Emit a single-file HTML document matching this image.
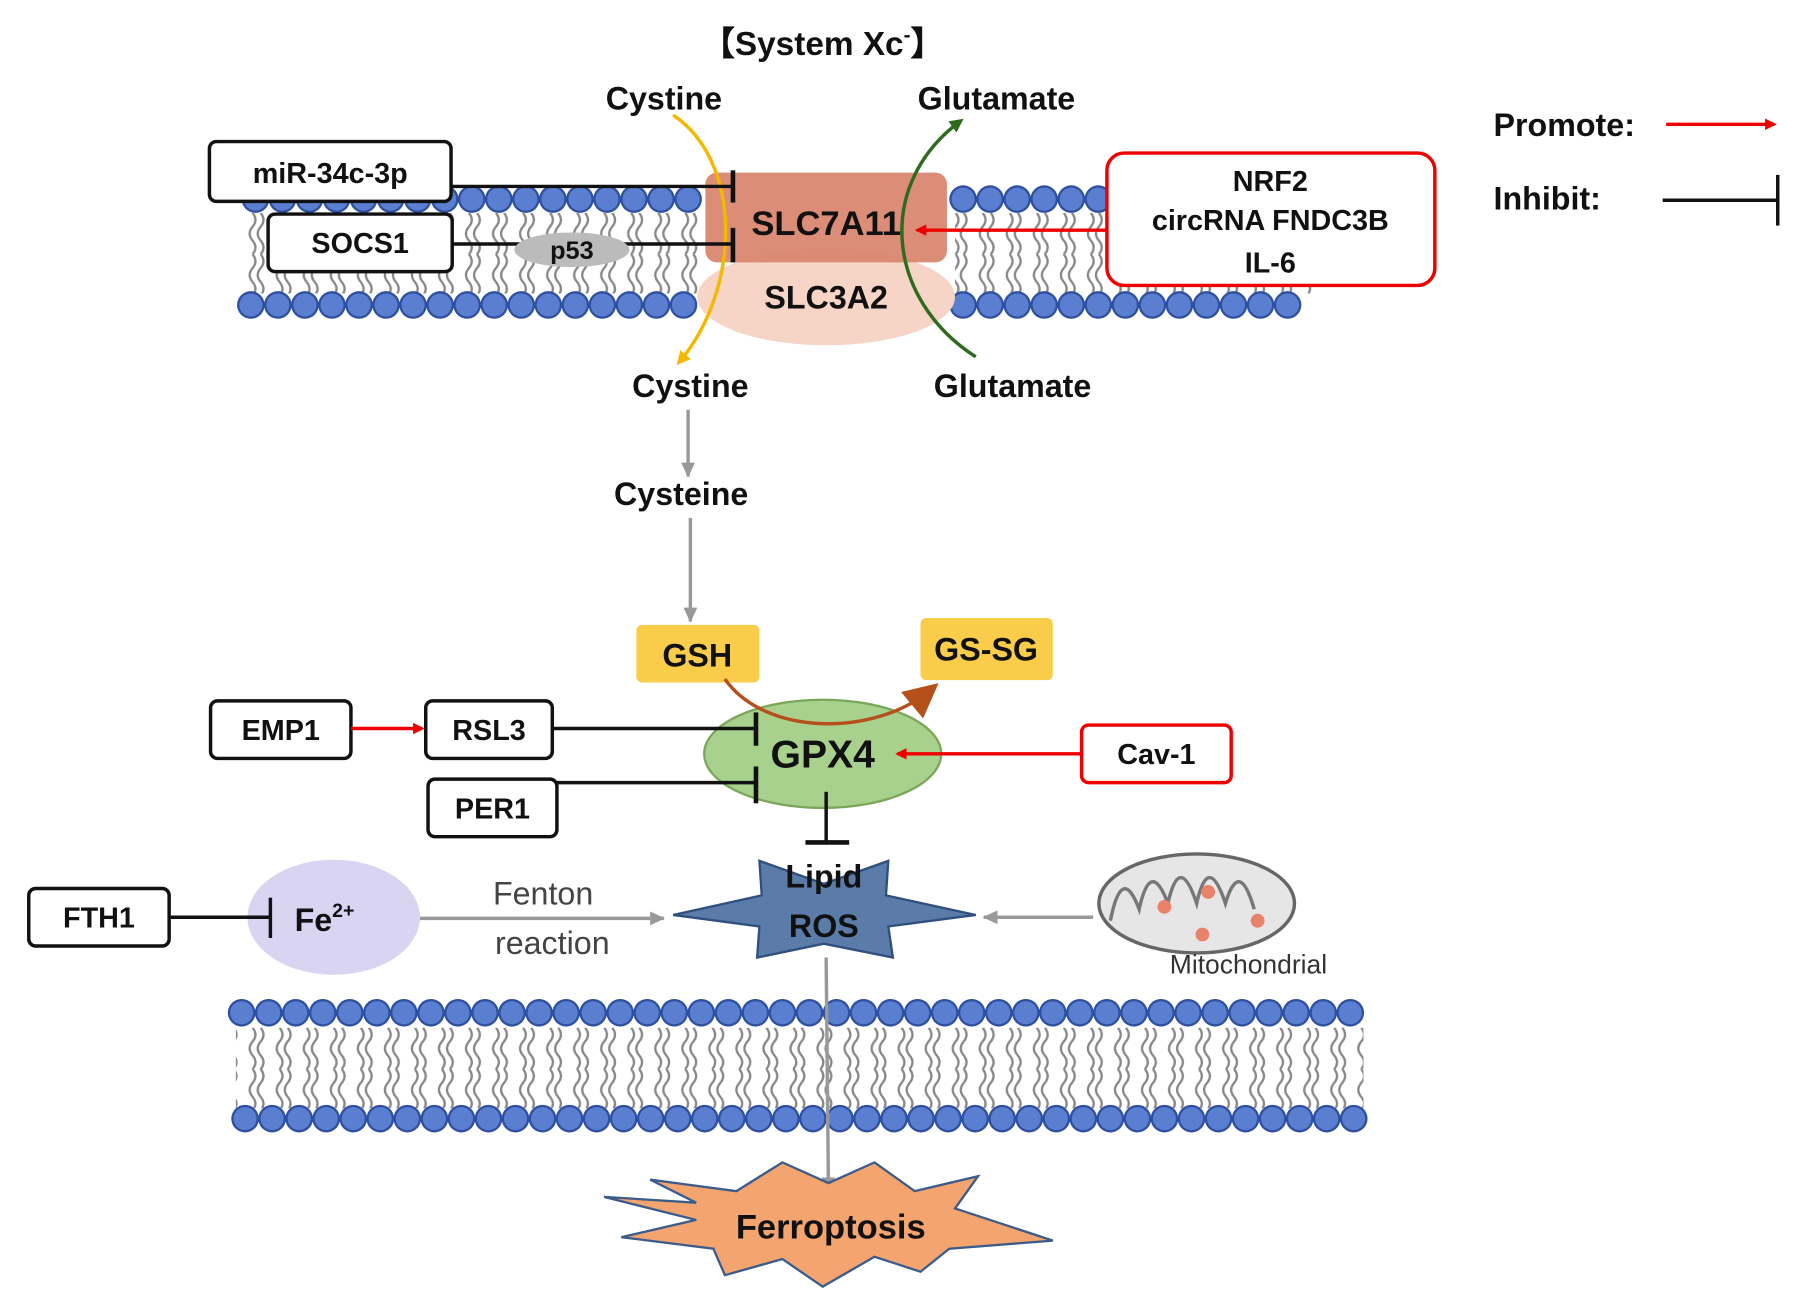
<!DOCTYPE html>
<html><head><meta charset="utf-8"><style>
html,body{margin:0;padding:0;background:#fff;width:1795px;height:1312px;overflow:hidden}
svg{display:block}
text{font-family:"Liberation Sans",sans-serif;fill:#111}
</style></head><body>
<svg width="1795" height="1312" viewBox="0 0 1560 1140" preserveAspectRatio="none" xmlns="http://www.w3.org/2000/svg">
<defs>
<pattern id="tailsA" x="0" y="185" width="23.5" height="70" patternUnits="userSpaceOnUse">
<path d="M8 0 q5 6 0 12 q-5 6 0 12 q5 6 0 12 M15 0 q5 6 0 12 q-5 6 0 12 q5 6 0 12 M8 36 q5 6 0 12 q-5 6 0 12 q5 6 0 12 M15 36 q5 6 0 12 q-5 6 0 12 q5 6 0 12" fill="none" stroke="#888" stroke-width="2"/>
</pattern>
<pattern id="tailsB" x="0" y="893" width="23.5" height="70" patternUnits="userSpaceOnUse">
<path d="M8 0 q5 6 0 12 q-5 6 0 12 q5 6 0 12 M15 0 q5 6 0 12 q-5 6 0 12 q5 6 0 12 M8 36 q5 6 0 12 q-5 6 0 12 q5 6 0 12 M15 36 q5 6 0 12 q-5 6 0 12 q5 6 0 12" fill="none" stroke="#888" stroke-width="2"/>
</pattern>
<marker id="ar" markerWidth="10" markerHeight="10" refX="8" refY="5" orient="auto" markerUnits="userSpaceOnUse"><path d="M0 0 L10 5 L0 10 Z" fill="#e00"/></marker>
<marker id="ag" markerWidth="14" markerHeight="14" refX="12" refY="7" orient="auto" markerUnits="userSpaceOnUse"><path d="M0 1 L13 7 L0 13 Z" fill="#999"/></marker>
<marker id="ay" markerWidth="12" markerHeight="12" refX="9" refY="6" orient="auto" markerUnits="userSpaceOnUse"><path d="M0 0 L12 6 L0 12 Z" fill="#f5b800"/></marker>
<marker id="agr" markerWidth="12" markerHeight="12" refX="9" refY="6" orient="auto" markerUnits="userSpaceOnUse"><path d="M0 0 L12 6 L0 12 Z" fill="#2e6b1e"/></marker>
<marker id="abr" markerWidth="30" markerHeight="30" refX="20" refY="15" orient="auto" markerUnits="userSpaceOnUse"><path d="M0 0 L30 15 L0 30 Z" fill="#b5501a"/></marker>
</defs>
<g id="heads" fill="none" stroke-linecap="round">
<!-- top membrane tails -->
<rect x="210" y="185" width="400" height="70" fill="url(#tailsA)"/>
<rect x="830" y="185" width="310" height="70" fill="url(#tailsA)"/>
<rect x="205" y="893" width="980" height="70" fill="url(#tailsB)"/>
<g stroke-dasharray="0 23.5">
<path d="M222 173 H610 M837 173 H960 M218 265 H610 M837 265 H1140 M210 880 H1185 M213 972 H1190" stroke="#2f4fa0" stroke-width="24"/>
<path d="M222 173 H610 M837 173 H960 M218 265 H610 M837 265 H1140 M210 880 H1185 M213 972 H1190" stroke="#5b7fd0" stroke-width="20"/>
</g>
</g>

<!-- transporter -->
<ellipse cx="718" cy="258" rx="112" ry="42" fill="#f6d5c6"/>
<rect x="613" y="150" width="210" height="78" rx="10" fill="#d98770" opacity="0.95"/>
<text x="718" y="204" font-size="30" font-weight="bold" text-anchor="middle">SLC7A11</text>
<text x="718" y="268" font-size="28" font-weight="bold" text-anchor="middle">SLC3A2</text>

<path d="M585 100 C645 140 645 250 590 315" fill="none" stroke="#f5b800" stroke-width="3" marker-end="url(#ay)"/>
<path d="M848 310 C770 260 760 160 835 105" fill="none" stroke="#2e6b1e" stroke-width="3" marker-end="url(#agr)"/>

<text x="715" y="48" font-size="29" font-weight="bold" text-anchor="middle">【System Xc<tspan font-size="18" dy="-12">-</tspan><tspan dy="12">】</tspan></text>
<text x="577" y="95" font-size="28" font-weight="bold" text-anchor="middle">Cystine</text>
<text x="866" y="95" font-size="28" font-weight="bold" text-anchor="middle">Glutamate</text>
<text x="600" y="345" font-size="28" font-weight="bold" text-anchor="middle">Cystine</text>
<text x="880" y="345" font-size="28" font-weight="bold" text-anchor="middle">Glutamate</text>

<rect x="182" y="123" width="210" height="52" rx="6" fill="#fff" stroke="#111" stroke-width="3"/>
<text x="287" y="159" font-size="25" font-weight="bold" text-anchor="middle">miR-34c-3p</text>
<rect x="233" y="186" width="160" height="50" rx="6" fill="#fff" stroke="#111" stroke-width="3"/>
<text x="313" y="220" font-size="25" font-weight="bold" text-anchor="middle">SOCS1</text>
<line x1="392" y1="162" x2="637" y2="162" stroke="#111" stroke-width="3"/>
<line x1="637" y1="148" x2="637" y2="176" stroke="#111" stroke-width="4"/>
<line x1="393" y1="212" x2="637" y2="212" stroke="#111" stroke-width="3"/>
<line x1="637" y1="198" x2="637" y2="228" stroke="#111" stroke-width="4"/>
<ellipse cx="497" cy="217" rx="50" ry="15" fill="#bbb"/>
<text x="497" y="225" font-size="22" font-weight="bold" text-anchor="middle">p53</text>

<rect x="962" y="133" width="285" height="115" rx="15" fill="#fff" stroke="#e00" stroke-width="3"/>
<text x="1104" y="166" font-size="25" font-weight="bold" text-anchor="middle">NRF2</text>
<text x="1104" y="200" font-size="25" font-weight="bold" text-anchor="middle">circRNA FNDC3B</text>
<text x="1104" y="237" font-size="25" font-weight="bold" text-anchor="middle">IL-6</text>
<line x1="962" y1="200" x2="797" y2="200" stroke="#e00" stroke-width="3" marker-end="url(#ar)"/>

<text x="1298" y="118" font-size="28" font-weight="bold">Promote:</text>
<line x1="1448" y1="108" x2="1542" y2="108" stroke="#e00" stroke-width="3" marker-end="url(#ar)"/>
<text x="1298" y="182" font-size="28" font-weight="bold">Inhibit:</text>
<line x1="1445" y1="174" x2="1545" y2="174" stroke="#111" stroke-width="3"/>
<line x1="1545" y1="152" x2="1545" y2="196" stroke="#111" stroke-width="3"/>

<line x1="598" y1="356" x2="598" y2="414" stroke="#999" stroke-width="3" marker-end="url(#ag)"/>
<text x="592" y="439" font-size="28" font-weight="bold" text-anchor="middle">Cysteine</text>
<line x1="600" y1="450" x2="600" y2="540" stroke="#999" stroke-width="3" marker-end="url(#ag)"/>

<rect x="553" y="543" width="107" height="50" rx="5" fill="#f9cd4a"/>
<text x="606" y="579" font-size="28" font-weight="bold" text-anchor="middle">GSH</text>
<rect x="800" y="537" width="115" height="54" rx="5" fill="#f9cd4a"/>
<text x="857" y="574" font-size="28" font-weight="bold" text-anchor="middle">GS-SG</text>

<ellipse cx="715" cy="655" rx="103" ry="47" fill="#a9d18e" stroke="#7aa65a" stroke-width="2"/>
<text x="715" y="667" font-size="34" font-weight="bold" text-anchor="middle">GPX4</text>
<path d="M630 590 C665 640 760 640 808 600" fill="none" stroke="#b5501a" stroke-width="3" marker-end="url(#abr)"/>

<rect x="183" y="609" width="122" height="50" rx="6" fill="#fff" stroke="#111" stroke-width="3"/>
<text x="244" y="643" font-size="25" font-weight="bold" text-anchor="middle">EMP1</text>
<line x1="305" y1="633" x2="367" y2="633" stroke="#e00" stroke-width="3" marker-end="url(#ar)"/>
<rect x="370" y="609" width="110" height="50" rx="6" fill="#fff" stroke="#111" stroke-width="3"/>
<text x="425" y="643" font-size="25" font-weight="bold" text-anchor="middle">RSL3</text>
<rect x="372" y="677" width="112" height="50" rx="6" fill="#fff" stroke="#111" stroke-width="3"/>
<text x="428" y="711" font-size="25" font-weight="bold" text-anchor="middle">PER1</text>
<line x1="480" y1="633" x2="657" y2="633" stroke="#111" stroke-width="3"/>
<line x1="657" y1="619" x2="657" y2="648" stroke="#111" stroke-width="4"/>
<line x1="484" y1="680" x2="657" y2="680" stroke="#111" stroke-width="3"/>
<line x1="657" y1="666" x2="657" y2="698" stroke="#111" stroke-width="4"/>

<rect x="940" y="630" width="130" height="50" rx="6" fill="#fff" stroke="#e00" stroke-width="3"/>
<text x="1005" y="664" font-size="25" font-weight="bold" text-anchor="middle">Cav-1</text>
<line x1="940" y1="655" x2="780" y2="655" stroke="#e00" stroke-width="3" marker-end="url(#ar)"/>

<line x1="718" y1="688" x2="718" y2="732" stroke="#111" stroke-width="3"/>
<line x1="700" y1="732" x2="738" y2="732" stroke="#111" stroke-width="4"/>

<polygon points="660,748 716,768 772,748 770,778 848,795 772,805 776,832 716,820 658,832 660,805 585,795 662,778" fill="#5b7ba8" stroke="#2f4f7f" stroke-width="2"/>
<text x="716" y="771" font-size="28" font-weight="bold" text-anchor="middle">Lipid</text>
<text x="716" y="814" font-size="28" font-weight="bold" text-anchor="middle">ROS</text>

<rect x="25" y="772" width="122" height="50" rx="6" fill="#fff" stroke="#111" stroke-width="3"/>
<text x="86" y="806" font-size="25" font-weight="bold" text-anchor="middle">FTH1</text>
<ellipse cx="290" cy="797" rx="75" ry="50" fill="#d9d4f2"/>
<line x1="147" y1="797" x2="235" y2="797" stroke="#111" stroke-width="3"/>
<line x1="235" y1="780" x2="235" y2="815" stroke="#111" stroke-width="3"/>
<text x="256" y="809" font-size="28" font-weight="bold">Fe<tspan font-size="17" dy="-12">2+</tspan></text>
<line x1="365" y1="798" x2="577" y2="798" stroke="#999" stroke-width="3" marker-end="url(#ag)"/>
<text x="472" y="786" font-size="28" text-anchor="middle" style="fill:#444">Fenton</text>
<text x="480" y="829" font-size="28" text-anchor="middle" style="fill:#444">reaction</text>

<ellipse cx="1040" cy="785" rx="85" ry="43" fill="#e6e6e6" stroke="#666" stroke-width="3"/>
<path d="M965 800 q10-50 25-10 q10-45 25-5 q10-45 25 0 q10-45 25 0 q12-40 25 5" fill="none" stroke="#777" stroke-width="3"/>
<circle cx="1012" cy="788" r="6" fill="#e9826a"/><circle cx="1050" cy="775" r="6" fill="#e9826a"/>
<circle cx="1045" cy="812" r="6" fill="#e9826a"/><circle cx="1093" cy="800" r="6" fill="#e9826a"/>
<text x="1085" y="846" font-size="23" text-anchor="middle" style="fill:#333">Mitochondrial</text>
<line x1="950" y1="797" x2="855" y2="797" stroke="#999" stroke-width="3" marker-end="url(#ag)"/>

<line x1="718" y1="832" x2="720" y2="1035" stroke="#999" stroke-width="3" marker-end="url(#ag)"/>

<polygon points="565,1025 640,1035 680,1010 720,1028 760,1010 795,1035 850,1022 830,1050 915,1078 825,1085 800,1105 760,1092 715,1118 680,1094 630,1108 620,1085 540,1075 605,1060 525,1040 605,1045" fill="#f4a56f" stroke="#3b5b8b" stroke-width="2"/>
<text x="722" y="1076" font-size="30" font-weight="bold" text-anchor="middle">Ferroptosis</text>
</svg>
</body></html>
